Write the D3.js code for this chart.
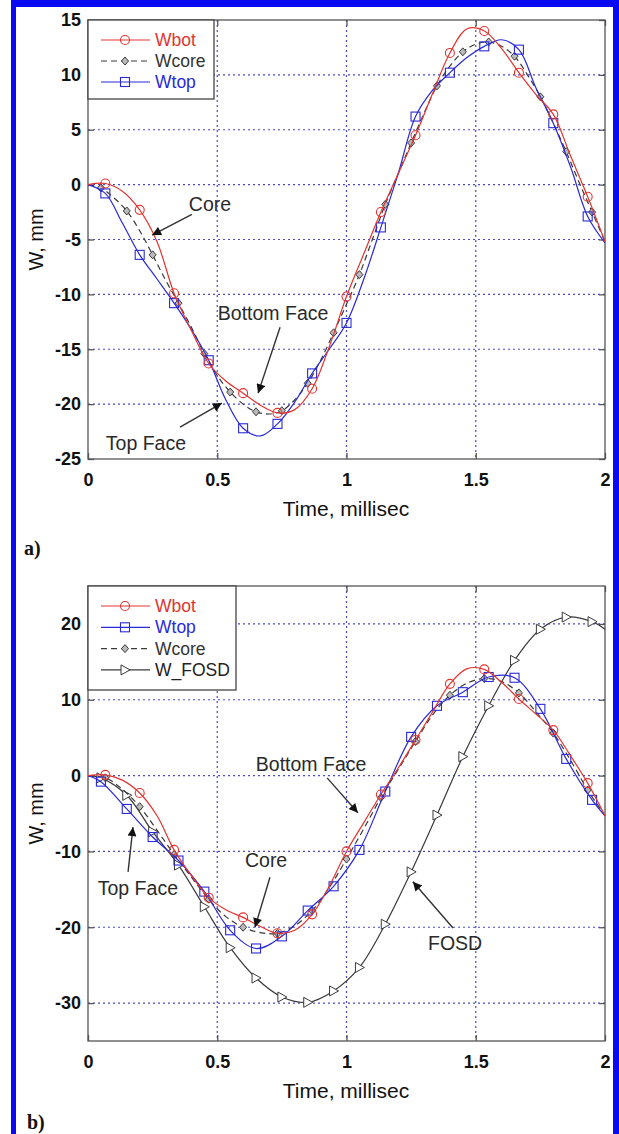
<!DOCTYPE html>
<html><head><meta charset="utf-8">
<script src="https://cdn.jsdelivr.net/npm/d3@7"></script>
<style>body{margin:0;background:#fff} svg{display:block}</style>
</head><body><svg id="c" width="619" height="1134"></svg>
<script>
// ---------- data (time in millisec, W in mm) ----------
const time15 = [0,0.067,0.133,0.2,0.267,0.333,0.4,0.467,0.533,0.6,0.667,0.733,0.8,0.867,0.933,1,1.067,1.133,1.2,1.267,1.333,1.4,1.467,1.533,1.6,1.667,1.733,1.8,1.867,1.933,2];
const time20 = [0,0.05,0.1,0.15,0.2,0.25,0.3,0.35,0.4,0.45,0.5,0.55,0.6,0.65,0.7,0.75,0.8,0.85,0.9,0.95,1,1.05,1.1,1.15,1.2,1.25,1.3,1.35,1.4,1.45,1.5,1.55,1.6,1.65,1.7,1.75,1.8,1.85,1.9,1.95,2];
const time10 = [0,0.05,0.15,0.25,0.35,0.45,0.55,0.65,0.75,0.85,0.95,1.05,1.15,1.25,1.35,1.45,1.55,1.65,1.75,1.85,1.95,2];

// panel a
const aWbot  = [0,0.1,-0.6,-2.3,-5.2,-9.9,-13.3,-16.3,-17.9,-19.0,-20.1,-20.8,-20.5,-18.6,-14.8,-10.2,-6.3,-2.5,1.0,4.5,8.3,12.0,14.2,14.0,12.4,10.2,8.2,6.4,2.6,-1.1,-5.2];
const aWtop  = [0,-0.8,-3.5,-6.4,-8.6,-10.8,-13.2,-16.0,-19.6,-22.2,-22.9,-21.8,-19.8,-17.2,-15.0,-12.6,-8.6,-3.9,1.0,6.2,8.6,10.2,11.6,12.6,13.2,12.3,8.8,5.6,1.6,-2.9,-5.3];
const aWcore = [0,-0.3,-1.2,-2.4,-4.2,-6.4,-8.7,-10.8,-13.0,-15.4,-17.4,-18.9,-20.0,-20.7,-20.9,-20.6,-19.6,-18.1,-16.0,-13.5,-10.9,-8.2,-5.0,-1.8,1.0,3.8,6.5,9.0,10.8,12.1,12.8,13.0,12.6,11.7,10.0,8.0,5.6,3.0,0.2,-2.5,-5.2];

// panel b
const bWbot  = [0,0.1,-0.6,-2.3,-5.3,-9.8,-13.2,-16.1,-17.7,-18.7,-19.9,-20.8,-20.4,-18.3,-14.6,-10.0,-6.2,-2.5,1.0,4.7,8.4,12.1,14.1,14.0,12.3,10.1,8.1,6.0,2.6,-1.0,-5.3];
const bWcore = [0,-0.3,-1.8,-4.1,-7.2,-10.4,-13.4,-16.3,-18.6,-20.0,-20.7,-20.8,-19.8,-17.8,-14.8,-11.0,-7.0,-2.9,0.8,4.5,8.0,10.6,12.2,12.8,12.4,10.9,8.4,5.6,2.0,-1.9,-5.3];
const bWtop  = [0,-0.8,-4.4,-8.1,-11.2,-15.3,-20.4,-22.8,-21.2,-17.8,-14.6,-9.8,-2.1,5.1,9.2,11.0,13.0,12.9,8.8,2.2,-3.2,-5.3];
const bWfosd = [0,-0.3,-2.6,-7.4,-11.8,-17.3,-22.7,-26.7,-29.2,-29.9,-28.4,-25.3,-19.6,-12.7,-5.2,2.5,9.2,15.2,19.3,20.9,20.3,19.3];

const xTicks  = [0,0.5,1,1.5,2];
const yTicksA = [-25,-20,-15,-10,-5,0,5,10,15];
const yTicksB = [-30,-20,-10,0,10,20];
const yDomainA = [-25,15];
const yDomainB = [-35,25];

const legendA = ["Wbot","Wcore","Wtop"];
const legendB = ["Wbot","Wtop","Wcore","W_FOSD"];

// annotations: [label, text t, text W, arrow start t, W, arrow tip t, W]
const notesA = [
  ["Core",0.472,-1.8,0.402,-2.7,0.248,-4.6],
  ["Bottom Face",0.716,-11.7,0.743,-13.0,0.658,-19.0],
  ["Top Face",0.224,-23.5,0.356,-22.1,0.518,-19.9]
];
const notesB = [
  ["Bottom Face",0.863,1.5,0.925,-0.3,1.044,-4.9],
  ["Top Face",0.193,-14.8,0.155,-12.7,0.174,-6.8],
  ["Core",0.689,-11.1,0.704,-13.4,0.646,-20.0],
  ["FOSD",1.42,-22.1,1.412,-20.1,1.257,-14.0]
];

// ---------- styles ----------
const RED = "#e2342f", BLUE = "#2a2ad8", BLACK = "#3a3a3a", GRID = "#4a4acc";
const SANS = "'Liberation Sans', Arial, sans-serif";
const svg = d3.select("#c");

// blue frame
svg.append("rect").attr("x",0).attr("y",0).attr("width",619).attr("height",1134).attr("fill","#fff");
svg.append("rect").attr("x",11).attr("y",0).attr("width",608).attr("height",7).attr("fill","#0a0af2");
svg.append("rect").attr("x",11).attr("y",0).attr("width",5).attr("height",1134).attr("fill","#0a0af2");
svg.append("rect").attr("x",613).attr("y",0).attr("width",6).attr("height",1134).attr("fill","#0a0af2");

const defs = svg.append("defs");
defs.append("marker").attr("id","ah").attr("viewBox","0 0 10 10").attr("refX",10).attr("refY",5)
  .attr("markerWidth",11).attr("markerHeight",9).attr("markerUnits","userSpaceOnUse").attr("orient","auto")
  .append("path").attr("d","M0,0 L10,5 L0,10 Z").attr("fill","#111");

function drawMarker(g, type, cx, cy, color){
  if(type==="circle"){
    g.append("circle").attr("cx",cx).attr("cy",cy).attr("r",4.5).attr("fill","none").attr("stroke",color).attr("stroke-width",1.1);
  } else if(type==="square"){
    g.append("rect").attr("x",cx-4.5).attr("y",cy-4.5).attr("width",9).attr("height",9).attr("fill","none").attr("stroke",color).attr("stroke-width",1.1);
  } else if(type==="diamond"){
    g.append("path").attr("d",`M${cx},${cy-4} L${cx+3.5},${cy} L${cx},${cy+4} L${cx-3.5},${cy} Z`).attr("fill","#bbb").attr("stroke",color).attr("stroke-width",1);
  } else if(type==="tri"){
    g.append("path").attr("d",`M${cx-4},${cy-5} L${cx+5},${cy} L${cx-4},${cy+5} Z`).attr("fill","#fff").attr("stroke",color).attr("stroke-width",1);
  }
}

const styles = {
  Wbot:{color:RED, marker:"circle", dash:null, text:RED},
  Wtop:{color:BLUE, marker:"square", dash:null, text:BLUE},
  Wcore:{color:BLACK, marker:"diamond", dash:"6,4", text:"#333"},
  W_FOSD:{color:BLACK, marker:"tri", dash:null, text:"#222"}
};

function panel(cfg){
  const x = d3.scaleLinear().domain([0,2]).range([88,605]);
  const y = d3.scaleLinear().domain(cfg.yDomain).range([cfg.bottom,cfg.top]);
  const g = svg.append("g");

  // grid
  g.selectAll(".gx").data(xTicks.filter(d=>d>0&&d<2)).enter().append("line")
    .attr("x1",d=>x(d)).attr("x2",d=>x(d)).attr("y1",cfg.top).attr("y2",cfg.bottom)
    .attr("stroke",GRID).attr("stroke-width",1.2).attr("stroke-dasharray","2,3");
  g.selectAll(".gy").data(cfg.yTicks.filter(d=>d>cfg.yDomain[0]&&d<cfg.yDomain[1])).enter().append("line")
    .attr("x1",88).attr("x2",605).attr("y1",d=>y(d)).attr("y2",d=>y(d))
    .attr("stroke",GRID).attr("stroke-width",1.2).attr("stroke-dasharray","2,3");

  // axes
  const fmt = d=>String(d);
  const ab = g.append("g").attr("transform",`translate(0,${cfg.bottom})`)
    .call(d3.axisBottom(x).tickValues(xTicks).tickSize(-6).tickSizeOuter(0).tickPadding(14).tickFormat(fmt));
  const at = g.append("g").attr("transform",`translate(0,${cfg.top})`)
    .call(d3.axisTop(x).tickValues(xTicks).tickSize(-6).tickSizeOuter(0).tickFormat(""));
  const al = g.append("g").attr("transform",`translate(88,0)`)
    .call(d3.axisLeft(y).tickValues(cfg.yTicks).tickSize(-6).tickSizeOuter(0).tickPadding(7).tickFormat(fmt));
  const ar = g.append("g").attr("transform",`translate(605,0)`)
    .call(d3.axisRight(y).tickValues(cfg.yTicks).tickSize(-6).tickSizeOuter(0).tickFormat(""));
  [ab,at,al,ar].forEach(a=>{
    a.selectAll(".domain").remove();
    a.selectAll(".tick line").attr("stroke","#555").attr("stroke-width",1.3);
    a.selectAll("text").attr("font-family",SANS).attr("font-size",18).attr("font-weight","bold").attr("fill","#111");
  });
  g.append("rect").attr("x",88).attr("y",cfg.top).attr("width",517).attr("height",cfg.bottom-cfg.top)
    .attr("fill","none").attr("stroke","#555").attr("stroke-width",1.3);

  // series
  cfg.series.forEach(s=>{
    const st = styles[s.name];
    const pts = s.t.map((t,i)=>[t,s.w[i]]);
    const line = d3.line().x(d=>x(d[0])).y(d=>y(d[1])).curve(d3.curveCatmullRom.alpha(0.5));
    g.append("path").datum(pts).attr("d",line).attr("fill","none").attr("stroke",st.color)
      .attr("stroke-width",1.2).attr("stroke-dasharray",st.dash);
    const mg = g.append("g");
    pts.forEach((p,i)=>{ if(s.mark(i,pts.length)) drawMarker(mg, st.marker, x(p[0]), y(p[1]), st.color); });
  });

  // legend
  const lg = g.append("g");
  lg.append("rect").attr("x",88).attr("y",cfg.top).attr("width",cfg.legW).attr("height",cfg.legH)
    .attr("fill","#fff").attr("stroke","#444").attr("stroke-width",1.3);
  cfg.legend.forEach((name,i)=>{
    const st = styles[name];
    const ly = cfg.top + cfg.legRow0 + i*cfg.legStep;
    lg.append("line").attr("x1",101).attr("x2",150).attr("y1",ly).attr("y2",ly)
      .attr("stroke",st.color).attr("stroke-width",1.2).attr("stroke-dasharray",st.dash);
    drawMarker(lg, st.marker, 125, ly, st.color);
    lg.append("text").attr("x",155).attr("y",ly+6).text(name)
      .attr("font-family",SANS).attr("font-size",17.5).attr("fill",st.text);
  });

  // annotations
  cfg.notes.forEach(n=>{
    g.append("line").attr("x1",x(n[3])).attr("y1",y(n[4])).attr("x2",x(n[5])).attr("y2",y(n[6]))
      .attr("stroke","#333").attr("stroke-width",1.4).attr("marker-end","url(#ah)");
    g.append("text").attr("x",x(n[1])).attr("y",y(n[2])+7).attr("text-anchor","middle").text(n[0])
      .attr("font-family",SANS).attr("font-size",19.5).attr("fill","#2a2a2a");
  });

  // axis titles
  g.append("text").attr("x",346).attr("y",cfg.bottom+57).attr("text-anchor","middle").text("Time, millisec")
    .attr("font-family",SANS).attr("font-size",21).attr("fill","#111");
  g.append("text").attr("transform",`translate(43,${(cfg.top+cfg.bottom)/2}) rotate(-90)`).attr("text-anchor","middle")
    .text("W, mm").attr("font-family",SANS).attr("font-size",20).attr("fill","#111");
  g.append("text").attr("x",cfg.tagX).attr("y",cfg.tagY).text(cfg.tag)
    .attr("font-family","'Liberation Serif', 'Times New Roman', serif").attr("font-weight","bold").attr("font-size",20).attr("fill","#111");
}

const odd = (i)=>i%2===1;
const inner = (i,n)=>i>0&&i<n-1;

panel({
  top:20, bottom:459, yDomain:yDomainA, yTicks:yTicksA,
  series:[
    {name:"Wcore", t:time20, w:aWcore, mark:odd},
    {name:"Wtop", t:time15, w:aWtop, mark:odd},
    {name:"Wbot", t:time15, w:aWbot, mark:odd}
  ],
  legend:legendA, legW:126, legH:79, legRow0:20, legStep:21,
  notes:notesA, tag:"a)", tagX:24, tagY:555
});

panel({
  top:586, bottom:1041, yDomain:yDomainB, yTicks:yTicksB,
  series:[
    {name:"W_FOSD", t:time10, w:bWfosd, mark:inner},
    {name:"Wcore", t:time15, w:bWcore, mark:odd},
    {name:"Wtop", t:time10, w:bWtop, mark:inner},
    {name:"Wbot", t:time15, w:bWbot, mark:odd}
  ],
  legend:legendB, legW:148, legH:104, legRow0:20, legStep:21.3,
  notes:notesB, tag:"b)", tagX:27, tagY:1129
});
</script>
</body></html>
